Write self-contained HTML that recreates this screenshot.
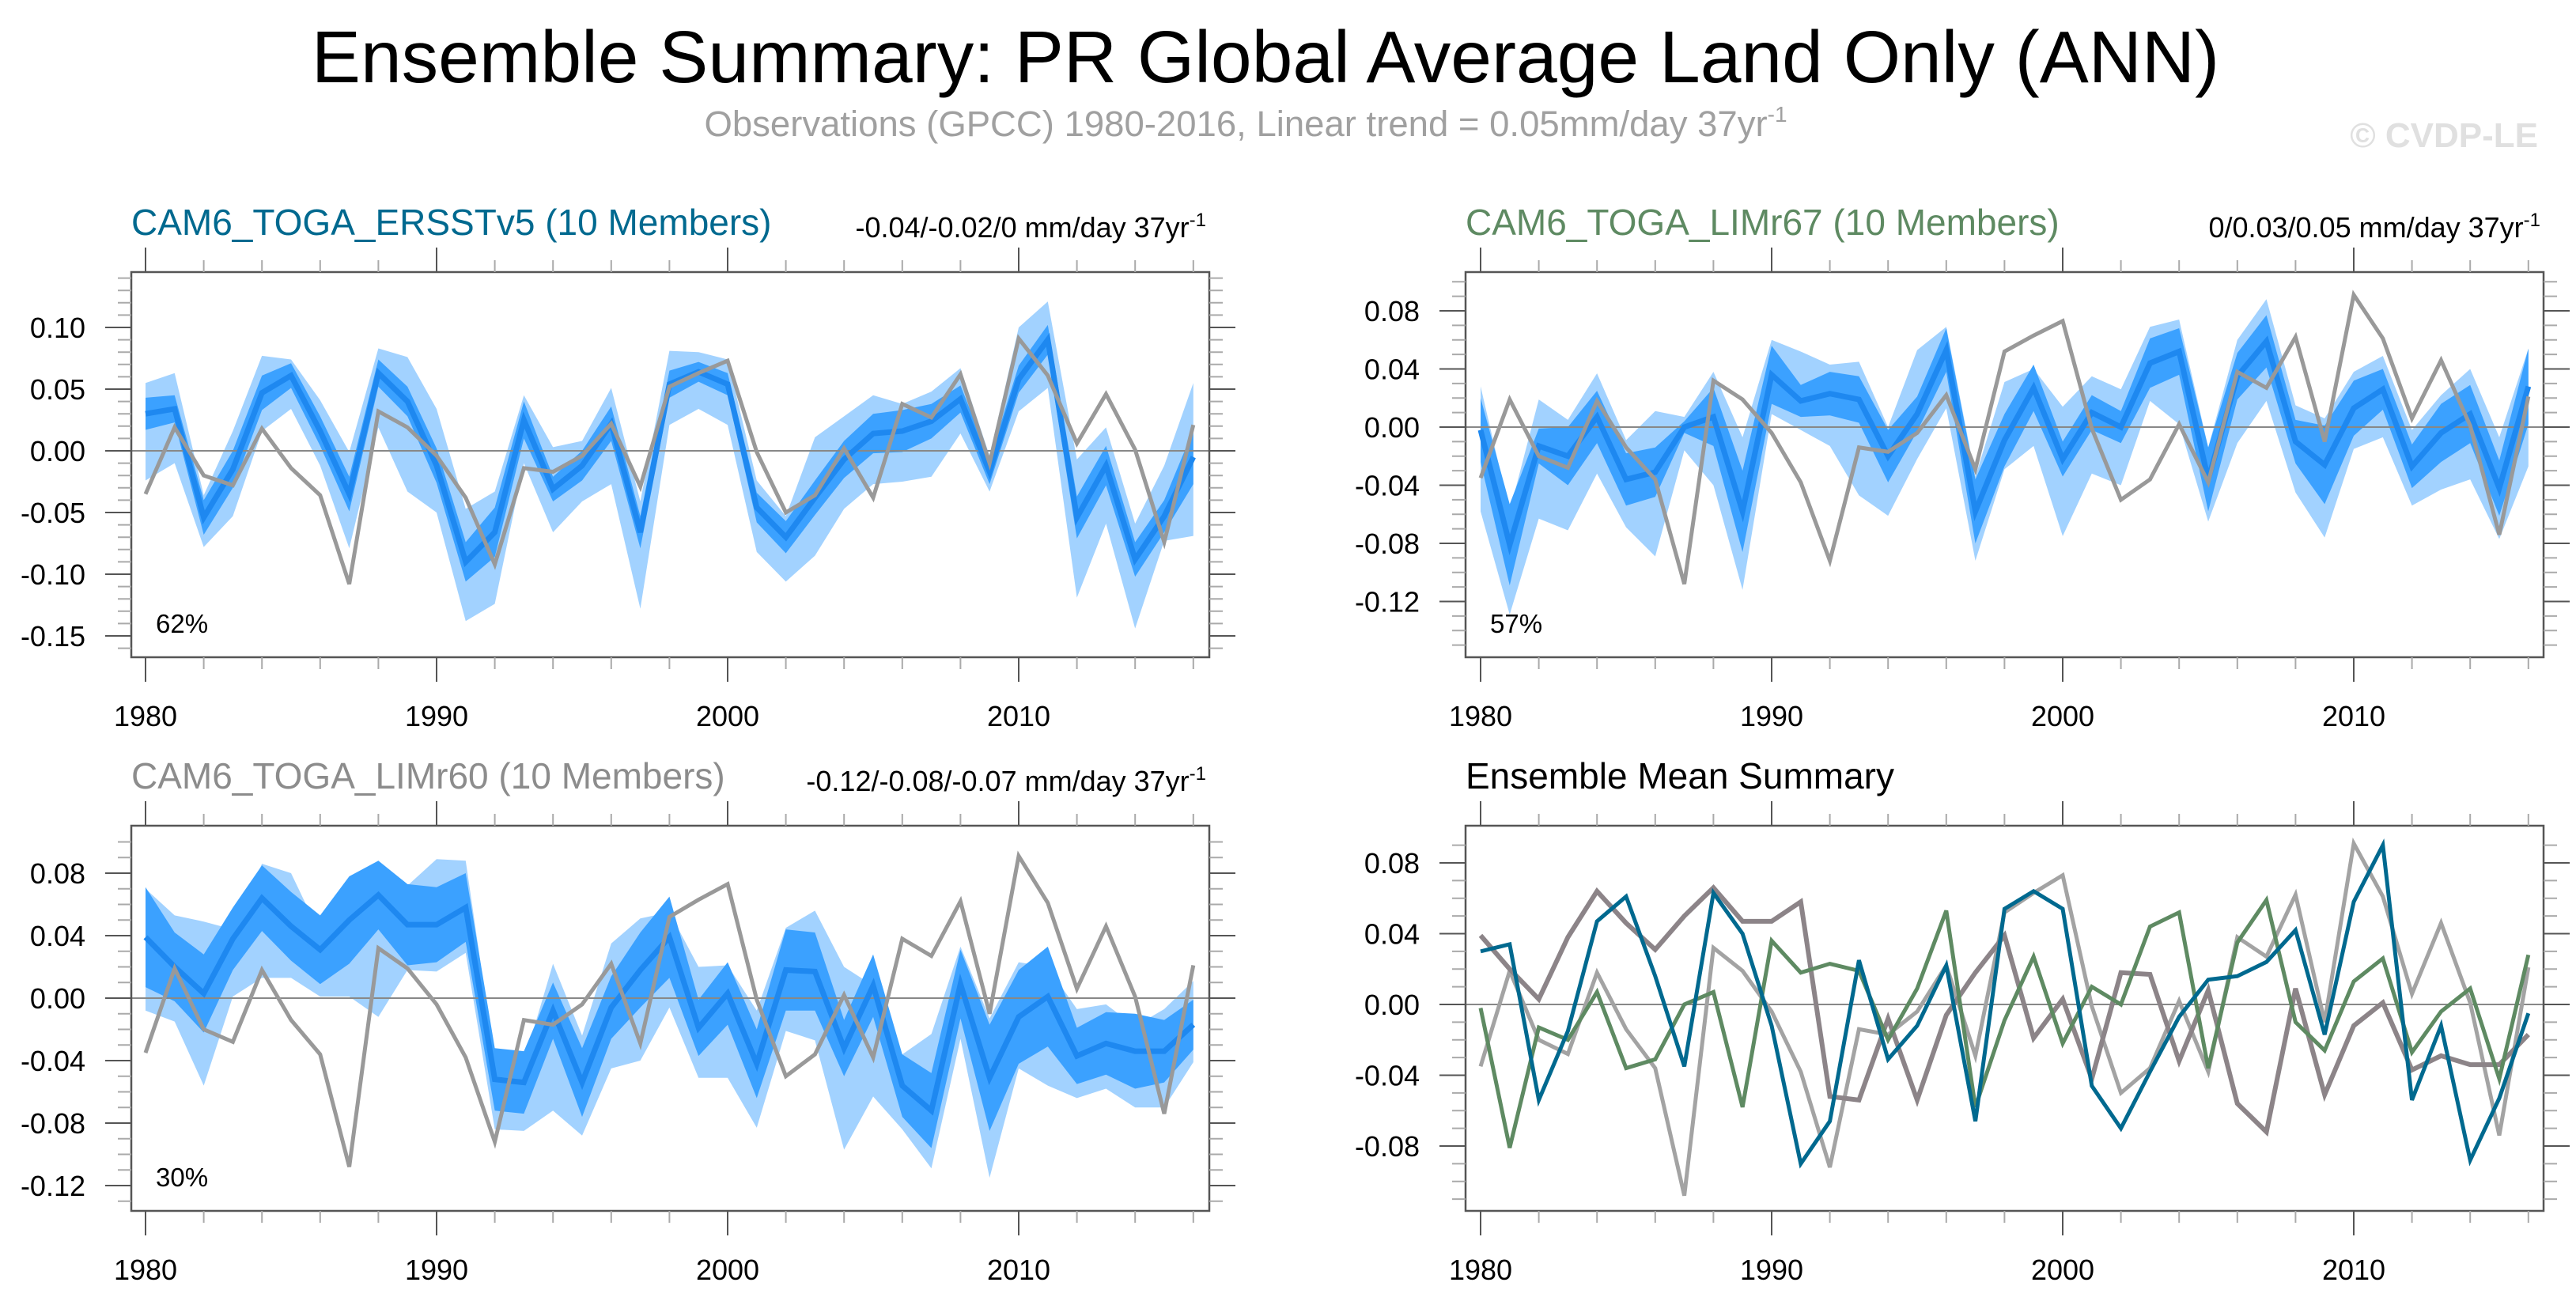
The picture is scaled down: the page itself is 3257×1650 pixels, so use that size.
<!DOCTYPE html>
<html><head><meta charset="utf-8"><style>
html,body{margin:0;padding:0;background:#fff;}
svg{display:block;font-family:"Liberation Sans",sans-serif;}
</style></head><body>
<svg id="chart" width="3257" height="1650" viewBox="0 0 3257 1650" xmlns="http://www.w3.org/2000/svg">
<text x="1600" y="104" font-size="93" text-anchor="middle" fill="#000">Ensemble Summary: PR Global Average Land Only (ANN)</text>
<text x="1575" y="172" font-size="45.5" text-anchor="middle" fill="#a0a0a0">Observations (GPCC) 1980-2016, Linear trend = 0.05mm/day 37yr<tspan font-size="28" dy="-18">-1</tspan></text>
<text x="3209" y="186" font-size="44" font-weight="bold" text-anchor="end" fill="#e0e0e0">© CVDP-LE</text>
<g id="plots"></g>
</svg>
<script>
const years = [];
for (let y = 1980; y <= 2016; y++) years.push(y);
const obs = [-0.035,0.019,-0.020,-0.028,0.018,-0.014,-0.036,-0.108,0.032,0.019,-0.004,-0.038,-0.092,-0.014,-0.017,-0.004,0.022,-0.029,0.052,0.063,0.073,-0.001,-0.050,-0.036,0.002,-0.038,0.038,0.027,0.062,-0.010,0.091,0.061,0.006,0.046,0.001,-0.074,0.021];
const meanA = [0.030,0.034,-0.054,-0.015,0.047,0.061,0.016,-0.035,0.063,0.040,-0.012,-0.090,-0.066,0.025,-0.031,-0.012,0.022,-0.066,0.054,0.064,0.054,-0.046,-0.070,-0.038,-0.007,0.014,0.016,0.024,0.042,-0.017,0.058,0.090,-0.054,-0.012,-0.088,-0.053,-0.005];
const outerHiA = [0.055,0.063,-0.036,0.016,0.077,0.074,0.041,-0.001,0.083,0.076,0.034,-0.047,-0.033,0.045,0.003,0.008,0.051,-0.041,0.081,0.080,0.074,-0.024,-0.053,0.011,0.028,0.045,0.038,0.048,0.067,-0.004,0.100,0.121,-0.007,0.019,-0.059,-0.012,0.055];
const outerLoA = [-0.024,-0.010,-0.078,-0.053,0.016,0.034,-0.012,-0.079,0.019,-0.033,-0.050,-0.138,-0.124,-0.010,-0.066,-0.041,-0.027,-0.128,0.021,0.034,0.021,-0.082,-0.106,-0.085,-0.047,-0.027,-0.025,-0.021,0.014,-0.033,0.032,0.051,-0.119,-0.059,-0.144,-0.073,-0.069];
const innerHwA = [0.013,0.011,0.014,0.015,0.014,0.010,0.012,0.014,0.011,0.012,0.014,0.016,0.020,0.015,0.010,0.012,0.014,0.013,0.011,0.008,0.009,0.012,0.013,0.014,0.015,0.016,0.017,0.014,0.011,0.010,0.011,0.012,0.017,0.016,0.014,0.013,0.022];
const meanB = [-0.002,-0.081,-0.013,-0.020,0.007,-0.036,-0.031,0.000,0.007,-0.058,0.036,0.018,0.023,0.019,-0.020,0.009,0.053,-0.058,-0.009,0.027,-0.022,0.010,0.000,0.044,0.052,-0.036,0.035,0.059,-0.010,-0.026,0.013,0.026,-0.027,-0.004,0.009,-0.042,0.028];
const outerHiB = [0.028,-0.058,0.019,0.005,0.037,-0.009,0.011,0.007,0.038,-0.007,0.060,0.052,0.043,0.045,0.000,0.053,0.069,-0.034,0.031,0.040,0.014,0.035,0.026,0.069,0.074,-0.014,0.060,0.088,0.015,0.006,0.038,0.049,-0.002,0.022,0.040,-0.007,0.054];
const outerLoB = [-0.058,-0.129,-0.063,-0.071,-0.032,-0.069,-0.089,-0.016,-0.040,-0.112,0.009,-0.002,-0.013,-0.047,-0.061,-0.022,0.013,-0.092,-0.029,-0.013,-0.075,-0.032,-0.040,0.018,0.002,-0.065,-0.011,0.018,-0.045,-0.076,-0.015,-0.007,-0.054,-0.043,-0.036,-0.077,-0.027];
const innerHwB = [0.022,0.028,0.012,0.020,0.018,0.018,0.017,0.004,0.020,0.028,0.020,0.011,0.015,0.016,0.018,0.012,0.015,0.022,0.018,0.016,0.012,0.012,0.011,0.017,0.016,0.022,0.016,0.018,0.015,0.027,0.019,0.014,0.015,0.020,0.020,0.019,0.026];
const meanC = [0.039,0.020,0.003,0.038,0.064,0.046,0.031,0.050,0.066,0.047,0.047,0.058,-0.052,-0.054,-0.008,-0.054,-0.006,0.018,0.039,-0.019,0.003,-0.042,0.018,0.017,-0.032,0.008,-0.056,-0.072,0.009,-0.051,-0.012,0.001,-0.037,-0.029,-0.034,-0.034,-0.017];
const outerHiC = [0.070,0.053,0.049,0.044,0.086,0.080,0.041,0.078,0.078,0.072,0.089,0.088,-0.040,-0.041,0.022,-0.024,0.035,0.051,0.055,0.020,0.021,-0.008,0.045,0.056,0.020,0.008,-0.036,-0.023,0.033,-0.013,0.023,0.020,-0.007,-0.004,-0.018,-0.007,0.011];
const outerLoC = [-0.008,-0.015,-0.056,0.001,0.013,0.013,0.001,0.001,-0.012,0.018,0.017,0.029,-0.084,-0.085,-0.072,-0.088,-0.045,-0.040,-0.006,-0.051,-0.051,-0.083,-0.021,-0.027,-0.097,-0.063,-0.084,-0.109,-0.026,-0.115,-0.045,-0.056,-0.064,-0.058,-0.070,-0.070,-0.041];
const innerHwC = [0.032,0.022,0.025,0.020,0.021,0.022,0.022,0.028,0.022,0.026,0.024,0.022,0.020,0.020,0.018,0.022,0.020,0.024,0.026,0.018,0.020,0.022,0.026,0.025,0.018,0.020,0.020,0.024,0.022,0.034,0.030,0.032,0.018,0.020,0.024,0.020,0.016];

const NS = "http://www.w3.org/2000/svg";
const root = document.getElementById("plots");
function mk(tag, attrs, parent) {
  const el = document.createElementNS(NS, tag);
  for (const k in attrs) el.setAttribute(k, attrs[k]);
  (parent || root).appendChild(el);
  return el;
}
function panel(cfg) {
  const g = mk("g", {});
  
  
  const L = cfg.left, R = cfg.left + 1363, T = cfg.top, B = cfg.top + 487;
  const xS = y => cfg.x0 + (y - 1980) * 36.8;
  const yS = v => cfg.zero - v / cfg.unit * cfg.unitPx;
  if (cfg.outerHi) {
    const pts = (a, b) => years.map((yr, i) => xS(yr) + "," + yS(a[i])).concat(years.slice().reverse().map((yr, j) => { const i = years.length - 1 - j; return xS(yr) + "," + yS(b[i]); })).join(" ");
    const ob = mk("polygon", { points: pts(cfg.outerHi, cfg.outerLo), fill: "#a2d2ff" }, g);
    
    
    const ih = cfg.mean.map((m, i) => m + cfg.innerHw[i]);
    const il = cfg.mean.map((m, i) => m - cfg.innerHw[i]);
    const ib = mk("polygon", { points: pts(ih, il), fill: "#3ba1ff" }, g);
    
    
  }
  const zl = mk("line", { x1: L, x2: R, y1: yS(0), y2: yS(0), stroke: "#888", "stroke-width": 2 }, g);
  
  
  cfg.lines.forEach(ln => {
    const p = mk("polyline", { points: years.map((yr, i) => xS(yr) + "," + yS(ln.data[i])).join(" "), fill: "none", stroke: ln.color, "stroke-width": ln.w, "stroke-linejoin": "miter" }, g);
    
    
  });
  const bx = mk("rect", { x: L, y: T, width: R - L, height: B - T, fill: "none", stroke: "#555", "stroke-width": 2.5 }, g);
  
  
  for (let yr = 1980; yr <= 2016; yr += 2) {
    const maj = yr % 10 === 0;
    const x = xS(yr), len = maj ? 31 : 15, c = maj ? "#555" : "#aaa";
    mk("line", { x1: x, x2: x, y1: T, y2: T - len, stroke: c, "stroke-width": 2 }, g);
    mk("line", { x1: x, x2: x, y1: B, y2: B + len, stroke: c, "stroke-width": 2 }, g);
    if (maj) {
      const t = mk("text", { x: x, y: 918 + cfg.dy, "font-size": 36, "text-anchor": "middle", fill: "#000" }, g);
      
      
      t.textContent = yr;
    }
  }
  const step = cfg.unit / cfg.minorPer;
  for (let k = -40; k <= 40; k++) {
    const v = k * step, y = yS(v);
    if (y < T + 3 || y > B - 3) continue;
    const maj = k % cfg.minorPer === 0;
    const len = maj ? 33 : 17, c = maj ? "#555" : "#aaa";
    mk("line", { x1: L, x2: L - len, y1: y, y2: y, stroke: c, "stroke-width": 2 }, g);
    mk("line", { x1: R, x2: R + len, y1: y, y2: y, stroke: c, "stroke-width": 2 }, g);
    if (maj) {
      const t = mk("text", { x: L - 58, y: y + 13, "font-size": 36, "text-anchor": "end", fill: "#000" }, g);
      
      
      t.textContent = v.toFixed(2).replace("-0.00", "0.00");
    }
  }
  const tt = mk("text", { x: L, y: cfg.top - 47, "font-size": 46, fill: cfg.titleColor }, g);
  
  
  tt.textContent = cfg.title;
  if (cfg.trend) {
    const tr = mk("text", { x: R - 4, y: cfg.top - 44, "font-size": 36, "text-anchor": "end", fill: "#000" }, g);
    
    
    tr.innerHTML = cfg.trend + ' mm/day 37yr<tspan font-size="24" dy="-14">-1</tspan>';
  }
  if (cfg.pct) {
    const pc = mk("text", { x: L + 31, y: B - 31, "font-size": 33, fill: "#000" }, g);
    
    
    pc.textContent = cfg.pct;
  }
}
const OBS = { data: obs, color: "#999", w: 5, name: "observations-line" };
panel({ name: "panel-ersstv5", left: 166, top: 344, x0: 184, zero: 570, unit: 0.05, unitPx: 78, minorPer: 5, dy: 0,
  outerHi: outerHiA, outerLo: outerLoA, innerHw: innerHwA, mean: meanA,
  lines: [{ data: meanA, color: "#1e88f0", w: 7, name: "ensemble-mean-line" }, OBS],
  title: "CAM6_TOGA_ERSSTv5 (10 Members)", titleColor: "#00698f", trend: "-0.04/-0.02/0", pct: "62%" });
panel({ name: "panel-limr67", left: 1853, top: 344, x0: 1872, zero: 540, unit: 0.04, unitPx: 73.5, minorPer: 4, dy: 0,
  outerHi: outerHiB, outerLo: outerLoB, innerHw: innerHwB, mean: meanB,
  lines: [{ data: meanB, color: "#1e88f0", w: 7, name: "ensemble-mean-line" }, OBS],
  title: "CAM6_TOGA_LIMr67 (10 Members)", titleColor: "#5e8a62", trend: "0/0.03/0.05", pct: "57%" });
panel({ name: "panel-limr60", left: 166, top: 1044, x0: 184, zero: 1262, unit: 0.04, unitPx: 79, minorPer: 4, dy: 700,
  outerHi: outerHiC, outerLo: outerLoC, innerHw: innerHwC, mean: meanC,
  lines: [{ data: meanC, color: "#1e88f0", w: 7, name: "ensemble-mean-line" }, OBS],
  title: "CAM6_TOGA_LIMr60 (10 Members)", titleColor: "#8c8c8c", trend: "-0.12/-0.08/-0.07", pct: "30%" });
panel({ name: "panel-ensemble-mean-summary", left: 1853, top: 1044, x0: 1872, zero: 1270, unit: 0.04, unitPx: 89.5, minorPer: 4, dy: 700,
  lines: [{ data: obs, color: "#a3a3a3", w: 5, name: "observations-line" },
          { data: meanC, color: "#8c8488", w: 6, name: "limr60-mean-line" },
          { data: meanB, color: "#5e8a62", w: 5, name: "limr67-mean-line" },
          { data: meanA, color: "#00698f", w: 5, name: "ersstv5-mean-line" }],
  title: "Ensemble Mean Summary", titleColor: "#000" });
</script>
</body></html>
